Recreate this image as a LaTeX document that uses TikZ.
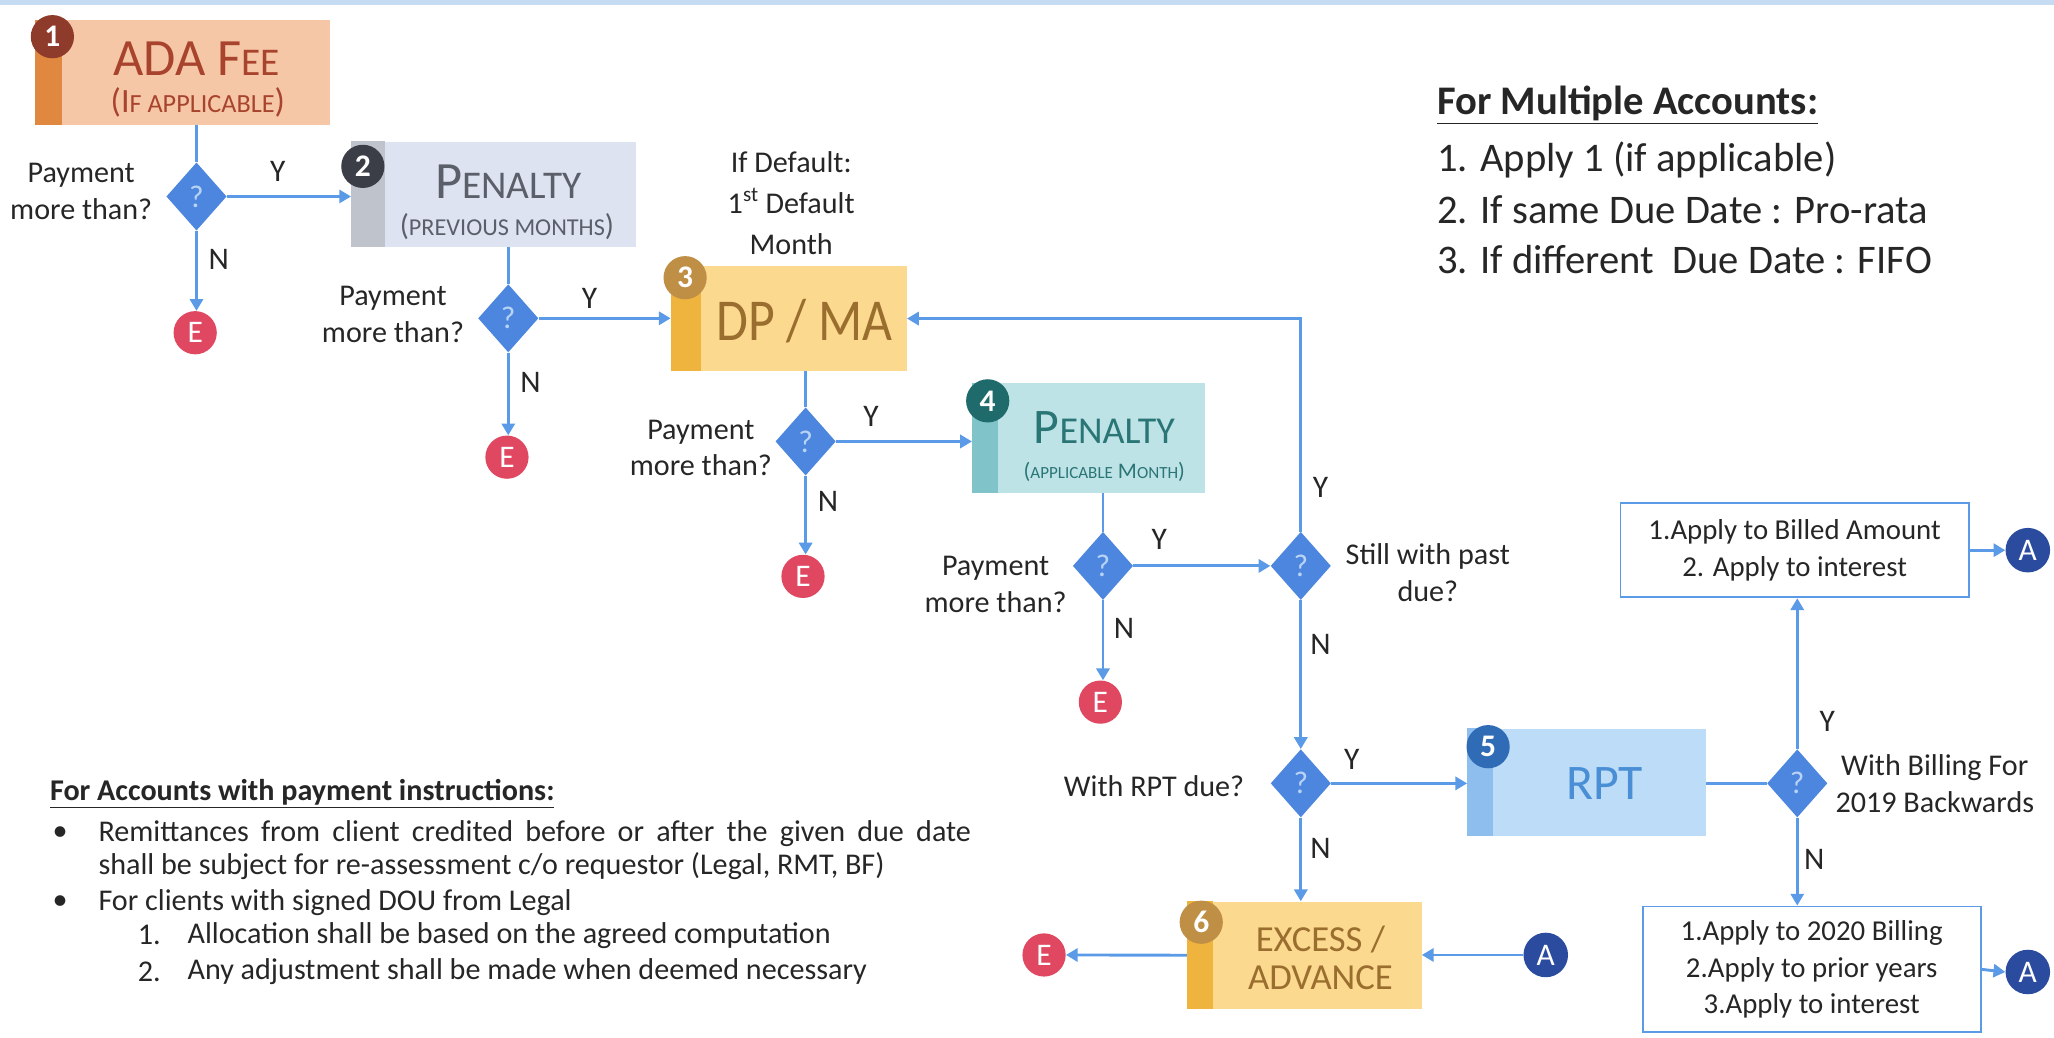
\documentclass[tikz,border=0pt]{standalone}
\usepackage{fontspec}
\usepackage{graphicx}
\setmainfont{Carlito}
\usetikzlibrary{shapes.geometric,arrows.meta,calc}

\definecolor{lnblue}{HTML}{5A9AE6}
\definecolor{dmd}{HTML}{4C86DF}
\definecolor{qmark}{HTML}{B9D3F4}
\definecolor{ered}{HTML}{E04862}
\definecolor{ablue}{HTML}{2B4C9E}
\definecolor{txt}{HTML}{262626}
\definecolor{topband}{HTML}{C5DCF2}
% box 1
\definecolor{fA}{HTML}{F6C7A6}
\definecolor{sA}{HTML}{E08840}
\definecolor{nA}{HTML}{8E3B2B}
\definecolor{tA}{HTML}{A8442E}
% box 2
\definecolor{fB}{HTML}{DEE3F1}
\definecolor{sB}{HTML}{BEC3CC}
\definecolor{nB}{HTML}{3B3E46}
\definecolor{tB}{HTML}{5A5F6A}
% box 3 / 6
\definecolor{fC}{HTML}{FBD98E}
\definecolor{sC}{HTML}{EEB43E}
\definecolor{nC}{HTML}{BF8F45}
\definecolor{tC}{HTML}{9A6E2E}
% box 4
\definecolor{fD}{HTML}{BEE3E7}
\definecolor{sD}{HTML}{80C4C9}
\definecolor{nD}{HTML}{1F6B6B}
\definecolor{tD}{HTML}{2A7575}
% box 5
\definecolor{fE}{HTML}{BCDCF7}
\definecolor{sE}{HTML}{8DBEEE}
\definecolor{nE}{HTML}{2F6CB5}
\definecolor{tE}{HTML}{4A8FD6}

\newcommand{\fs}[1]{\fontsize{#1}{#1}\selectfont}

\tikzset{
  conn/.style={draw=lnblue, line width=2.2pt},
  arr/.style={conn, -{Triangle[width=10pt,length=9pt]}},
  dec/.style={diamond, fill=dmd, minimum width=46pt, minimum height=52pt, inner sep=0pt, text=qmark, font=\fs{24}},
  endc/.style={circle, fill=ered, minimum size=33pt, inner sep=0pt, text=white, font=\fs{24}},
  ac/.style={circle, fill=ablue, minimum size=34pt, inner sep=0pt, text=white, font=\fs{24}},
  numc/.style={circle, minimum size=33pt, inner sep=0pt, text=white, font=\bfseries\fs{24}},
  stepbox/.style={rectangle, inner sep=0pt, anchor=north west},
  lbl/.style={font=\fontsize{23}{28}\selectfont, align=center, text=txt, inner sep=0pt},
  yn/.style={font=\fs{24}, text=txt, inner sep=0pt},
  tbox/.style={draw=lnblue, line width=1.4pt, fill=white, align=center, font=\fontsize{22}{28}\selectfont, text=txt, inner sep=0pt},
  note/.style={font=\fs{23}, text=txt, anchor=west, inner sep=0pt},
  multi/.style={font=\fs{31}, text=txt, anchor=west, inner sep=0pt}
}

\begin{document}
\begin{tikzpicture}[x=1pt,y=-1pt]
\useasboundingbox (0,0) rectangle (1568,792);
\fill[topband] (0,0) rectangle (1568,4);

% ---------- Box 1 ----------
\node[stepbox, fill=fA, minimum width=225pt, minimum height=80pt] (b1) at (27,15) {};
\fill[sA] (b1.north west) rectangle ([xshift=20pt]b1.south west);
\node[numc, fill=nA] (n1) at (40,28) {1};
\node[text=tA, inner sep=0pt] (b1t) at (150,45) {\fs{40}ADA F\fs{30}EE};
\node[text=tA, inner sep=0pt] (b1s) at (151,78) {\fs{26}(I\fs{20}F APPLICABLE\fs{26})};

% ---------- Box 2 ----------
\node[stepbox, fill=fB, minimum width=217pt, minimum height=80pt] (b2) at (268,108) {};
\fill[sB] (b2.north west) rectangle ([xshift=26pt]b2.south west);
\node[numc, fill=nB] (n2) at (277,127) {2};
\node[text=tB, inner sep=0pt] (b2t) at (388,139) {\fs{40}P\fs{30}ENALTY};
\node[text=tB, inner sep=0pt] (b2s) at (387,173) {\fs{23}(\fs{18.5}PREVIOUS MONTHS\fs{23})};

% ---------- Box 3 ----------
\node[stepbox, fill=fC, minimum width=180pt, minimum height=80pt] (b3) at (512,203) {};
\fill[sC] (b3.north west) rectangle ([xshift=23pt]b3.south west);
\node[numc, fill=nC] (n3) at (523,212) {3};
\node[text=tC, inner sep=0pt] (b3t) at (614,245) {\scalebox{0.94}[1.08]{\fs{42}DP / MA}};
\node[lbl, font=\fontsize{23}{31}\selectfont] (dflt) at (604,155) {If Default:\\1\textsuperscript{st} Default\\Month};

% ---------- Box 4 ----------
\node[stepbox, fill=fD, minimum width=178pt, minimum height=84pt] (b4) at (742,292) {};
\fill[sD] (b4.north west) rectangle ([xshift=20pt]b4.south west);
\node[numc, fill=nD] (n4) at (754,306) {4};
\node[text=tD, inner sep=0pt] (b4t) at (843,326) {\fs{38}P\fs{29}ENALTY};
\node[text=tD, inner sep=0pt] (b4s) at (843,360) {\fs{17}(\fs{13}APPLICABLE\fs{17} M\fs{13}ONTH\fs{17})};

% ---------- Box 5 ----------
\node[stepbox, fill=fE, minimum width=182pt, minimum height=82pt] (b5) at (1120,556) {};
\fill[sE] (b5.north west) rectangle ([xshift=20pt]b5.south west);
\node[numc, fill=nE] (n5) at (1136,570) {5};
\node[text=tE, inner sep=0pt] (b5t) at (1225,598) {\fs{38}RPT};

% ---------- Box 6 ----------
\node[stepbox, fill=fC, minimum width=179pt, minimum height=82pt] (b6) at (906,688) {};
\fill[sC] (b6.north west) rectangle ([xshift=20pt]b6.south west);
\node[numc, fill=nC] (n6) at (917,704) {6};
\node[text=tC, inner sep=0pt, align=center, font=\fontsize{28}{29}\selectfont] (b6t) at (1008,731) {EXCESS /\\ADVANCE};

% ---------- Decisions ----------
\node[dec] (d1) at (150,150) {?};
\node[dec] (d2) at (388,243) {?};
\node[dec] (d3) at (615,337) {?};
\node[dec] (d4) at (842,432) {?};
\node[dec] (d5) at (993,432) {?};
\node[dec] (d6) at (993,598) {?};
\node[dec] (d7) at (1372,598) {?};

% ---------- End / A circles ----------
\node[endc] (e1) at (149,254) {E};
\node[endc] (e2) at (387,349) {E};
\node[endc] (e3) at (613,440) {E};
\node[endc] (e4) at (840,536) {E};
\node[endc] (e5) at (797,729) {E};
\node[ac] (a1) at (1548,420) {A};
\node[ac] (a2) at (1548,742) {A};
\node[ac] (a3) at (1180,729) {A};

% ---------- Text boxes ----------
\node[tbox, minimum width=266pt, minimum height=72pt] (t1) at (1370,420) {1.Apply to Billed Amount\\2. Apply to interest};
\node[tbox, minimum width=258pt, minimum height=96pt] (t2) at (1383,740) {1.Apply to 2020 Billing\\2.Apply to prior years\\3.Apply to interest};

% ---------- Question labels ----------
\node[lbl] (q1) at (62,146) {Payment\\more than?};
\node[lbl] (q2) at (300,240) {Payment\\more than?};
\node[lbl] (q3) at (535,342) {Payment\\more than?};
\node[lbl] (q4) at (760,446) {Payment\\more than?};
\node[lbl] (q5) at (1090,437) {Still with past\\due?};
\node[lbl] (q6) at (881,600) {With RPT due?};
\node[lbl] (q7) at (1477,598) {With Billing For\\2019 Backwards};

% ---------- Y / N labels ----------
\node[yn] (y1) at (212,131) {Y};
\node[yn] (n1l) at (167,198) {N};
\node[yn] (y2) at (450,228) {Y};
\node[yn] (n2l) at (405,292) {N};
\node[yn] (y3) at (665,318) {Y};
\node[yn] (n3l) at (632,383) {N};
\node[yn] (y4) at (885,412) {Y};
\node[yn] (n4l) at (858,480) {N};
\node[yn] (y5) at (1008,372) {Y};
\node[yn] (n5l) at (1008,492) {N};
\node[yn] (y6) at (1032,580) {Y};
\node[yn] (n6l) at (1008,648) {N};
\node[yn] (y7) at (1395,551) {Y};
\node[yn] (n7l) at (1385,656) {N};

% ---------- Connectors ----------
\draw[conn] (b1.south -| d1) -- (d1.north);
\draw[arr] (d1.east) -- (d1.east -| b2.west);
\draw[arr] (d1.south) -- (d1.south |- e1.north);

\draw[conn] (b2.south -| d2) -- (d2.north);
\draw[arr] (d2.east) -- (d2.east -| b3.west);
\draw[arr] (d2.south) -- (d2.south |- e2.north);

\draw[conn] (b3.south -| d3) -- (d3.north);
\draw[arr] (d3.east) -- (d3.east -| b4.west);
\draw[arr] (d3.south) -- (d3.south |- e3.north);

\draw[conn] (b4.south -| d4) -- (d4.north);
\draw[arr] (d4.east) -- (d5.west);
\draw[arr] (d4.south) -- (d4.south |- e4.north);

\draw[arr] (d5.north) |- (b3.east);
\draw[arr] (d5.south) -- (d6.north);

\draw[arr] (d6.east) -- (d6.east -| b5.west);
\draw[arr] (d6.south) -- (d6.south |- b6.north);

\draw[conn] (d7.west -| b5.east) -- (d7.west);
\draw[arr] (d7.north) -- (d7.north |- t1.south);
\draw[arr] (d7.south) -- (d7.south |- t2.north);
\draw[arr] (t1.east) -- (a1.west);
\draw[arr] (t2.east) -- (a2.west);

\draw[arr] (a3.west) -- (a3.west -| b6.east);
\draw[arr] (b6.west) -- (e5.east);

% ---------- For Multiple Accounts ----------
\node[multi] (m0) at (1097,80) {\underline{\textbf{For Multiple Accounts:}}};
\node[multi] (m1) at (1097,122) {1. Apply 1 (if applicable)};
\node[multi] (m2) at (1097,160) {2. If same Due Date : Pro-rata};
\node[multi] (m3) at (1097,198) {3. If different \ Due Date : FIFO};

% ---------- Payment instructions note ----------
\node[note] (p0) at (38,606) {\underline{\textbf{For Accounts with payment instructions:}}};
\node[note] (pb1) at (40,636) {\textbullet};
\node[note] (p1) at (75,636) {\makebox[666pt][s]{Remittances from client credited before or after the given due date}};
\node[note] (p2) at (75,661) {shall be subject for re-assessment c/o requestor (Legal, RMT, BF)};
\node[note] (pb2) at (40,689) {\textbullet};
\node[note] (p3) at (75,689) {For clients with signed DOU from Legal};
\node[note] (pn1) at (105,714) {1.};
\node[note] (p4) at (143,714) {Allocation shall be based on the agreed computation};
\node[note] (pn2) at (105,742) {2.};
\node[note] (p5) at (143,742) {Any adjustment shall be made when deemed necessary};
\end{tikzpicture}
\end{document}
